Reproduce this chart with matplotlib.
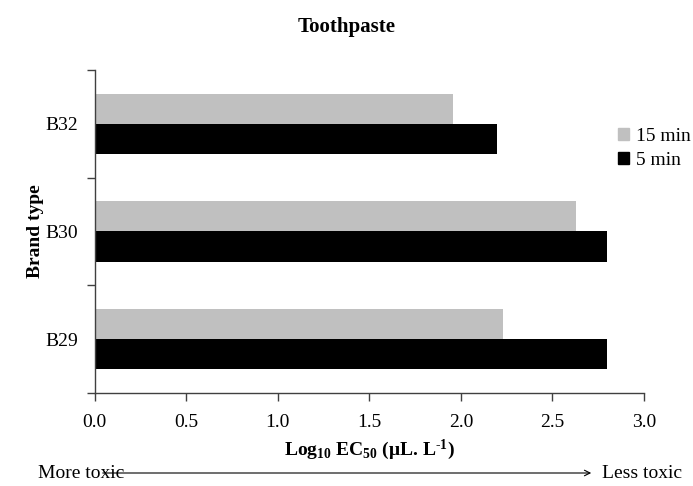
import numpy as np
import matplotlib.pyplot as plt
from matplotlib.patches import Patch, FancyArrowPatch

plt.rcParams['font.family'] = ['Liberation Serif', 'DejaVu Serif']
plt.rcParams['mathtext.default'] = 'regular'

# Log10 EC50 per brand, bottom to top
brands = ['B29', 'B30', 'B32']
ec50_15min = [2.23, 2.63, 1.955]
ec50_5min = [2.80, 2.80, 2.20]
xticks = [0.0, 0.5, 1.0, 1.5, 2.0, 2.5, 3.0]

W, H = 693, 486
fig = plt.figure(figsize=(W / 100, H / 100), dpi=100)
ax = fig.add_axes([94.5 / W, 1 - 393 / H, (644 - 94.5) / W, (393 - 70) / H])

y = np.arange(len(brands))
h = 0.28
ax.barh(y + h / 2, ec50_15min, height=h, color='#c0c0c0')
ax.barh(y - h / 2, ec50_5min, height=h, color='black')

ax.set_xlim(0, 3.0)
ax.set_ylim(-0.5, len(brands) - 0.5)
ax.set_xticks(xticks)
ax.set_xticklabels([f'{v:.1f}' for v in xticks])

# category boundaries get the tick marks, labels sit between them
ax.set_yticks(np.arange(-0.5, len(brands), 1.0))
ax.set_yticklabels([])
ax.set_yticks(y, minor=True)
ax.set_yticklabels(brands, minor=True)
ax.tick_params(axis='y', which='minor', length=0, pad=12, labelsize=14)
ax.tick_params(axis='y', which='major', length=6, width=1.0, color='#404040')
ax.tick_params(axis='x', length=6, width=1.0, color='#404040', labelsize=14, pad=9)

for s in ['top', 'right']:
    ax.spines[s].set_visible(False)
for s in ['left', 'bottom']:
    ax.spines[s].set_color('#404040')
    ax.spines[s].set_linewidth(1.0)

ax.set_xlabel('Log$_{10}$ EC$_{50}$ (μL. L$^{\u2010 1}$)', fontsize=14, fontweight='bold', labelpad=5)
ax.set_ylabel('Brand type', fontsize=14, fontweight='bold', labelpad=1)
fig.text(0.5, 1 - 27 / H, 'Toothpaste', ha='center', va='center', fontsize=15, fontweight='bold')

handles = [Patch(color='#c0c0c0', label='15 min'), Patch(color='black', label='5 min')]
ax.legend(handles=handles, loc='upper left', bbox_to_anchor=(618 / W, 1 - 128 / H),
          bbox_transform=fig.transFigure, frameon=False, fontsize=14,
          handlelength=0.55, handleheight=0.55, handletextpad=0.35, labelspacing=0.35,
          borderpad=0, borderaxespad=0)

# toxicity direction arrow below the axis
ya = 1 - 473 / H
fig.text(38 / W, ya, 'More toxic', ha='left', va='center', fontsize=14)
fig.text(602 / W, ya, 'Less toxic', ha='left', va='center', fontsize=14)
fig.add_artist(FancyArrowPatch((100 / W, ya), (594 / W, ya), transform=fig.transFigure,
                               arrowstyle='->', mutation_scale=10, color='black', linewidth=0.8))

fig.savefig('out.png', dpi=100)
